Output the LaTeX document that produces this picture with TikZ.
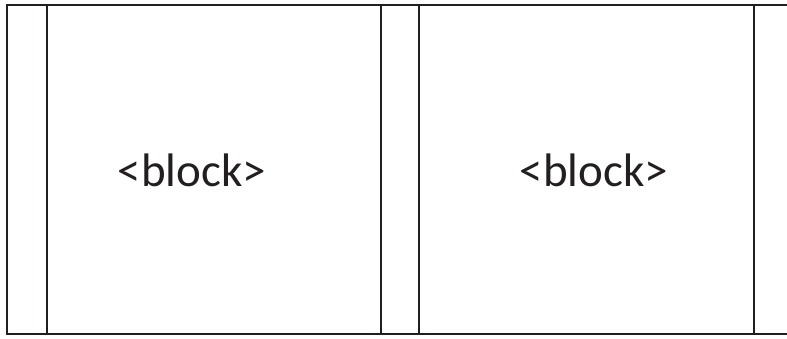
\documentclass[tikz,border=0pt]{standalone}
\usepackage{fontspec}
\setmainfont{Carlito}
\begin{document}
\begin{tikzpicture}[x=1pt,y=-1pt,
  frame/.style={line width=2.6pt,draw={rgb,255:red,35;green,31;blue,32}},
  lbl/.style={anchor=base,inner sep=0pt,font=\fontsize{47}{47}\selectfont,text={rgb,255:red,35;green,31;blue,32}}]
\useasboundingbox (0,0) rectangle (787,339);
\coordinate (tl) at (7,5);
\coordinate (bl) at (7,334);
\coordinate (tr) at (787,5);
\coordinate (br) at (787,334);
\draw[frame] (tr) -- (tl) -- (bl) -- (br);
\foreach \x/\n in {47/a,381/b,419/c,754/d}{
  \coordinate (\n t) at (\x,5);
  \coordinate (\n b) at (\x,334);
  \draw[frame] (\n t) -- (\n b);
}
\node[lbl] (block1) at (192,187) {<block>};
\node[lbl] (block2) at (594,187) {<block>};
\end{tikzpicture}
\end{document}
